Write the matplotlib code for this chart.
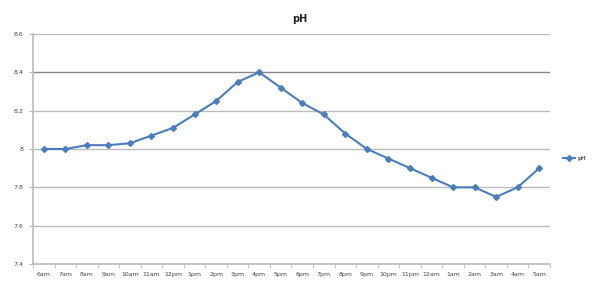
import matplotlib
matplotlib.use('Agg')
import matplotlib.pyplot as plt

hours = ['6am', '7am', '8am', '9am', '10am', '11am', '12pm', '1pm', '2pm', '3pm', '4pm', '5pm',
         '6pm', '7pm', '8pm', '9pm', '10pm', '11pm', '12am', '1am', '2am', '3am', '4am', '5am']
ph = [8.0, 8.0, 8.02, 8.02, 8.03, 8.07, 8.11, 8.18, 8.25, 8.35, 8.4, 8.32,
      8.24, 8.18, 8.08, 8.0, 7.95, 7.9, 7.85, 7.8, 7.8, 7.75, 7.8, 7.9]
yticks = [7.4, 7.6, 7.8, 8.0, 8.2, 8.4, 8.6]
ytick_labels = ['7.4', '7.6', '7.8', '8', '8.2', '8.4', '8.6']

fig = plt.figure(figsize=(5.98, 2.85), dpi=100)
ax = fig.add_axes([0.0552, 0.0737, 0.8645, 0.807])

x = list(range(len(hours)))
ax.plot(x, ph, color='#4a7ebb', linewidth=1.5, marker='D', markersize=3, label='pH')

ax.set_xlim(-0.5, len(hours) - 0.5)
ax.set_ylim(7.4, 8.6)
ax.set_yticks(yticks)
ax.set_yticklabels(ytick_labels, fontsize=4.5, color='#444444')
ax.set_xticks(x)
ax.set_xticklabels(hours, fontsize=4.5, color='#444444')
ax.tick_params(axis='x', length=0, pad=6)
ax.tick_params(axis='y', length=3, color='#bbbbbb', pad=4)
# boundary tick marks between categories
ax.set_xticks([i - 0.5 for i in range(len(hours) + 1)], minor=True)
ax.tick_params(axis='x', which='minor', length=3, color='#bbbbbb')

for t in yticks[1:]:
    c = '#888888' if t == 8.4 else '#bbbbbb'
    ax.axhline(t, color=c, linewidth=1.0, zorder=0)

for s in ['top', 'right']:
    ax.spines[s].set_visible(False)
ax.spines['left'].set_color('#bbbbbb')
ax.spines['bottom'].set_color('#bbbbbb')
ax.spines['left'].set_linewidth(1.2)
ax.spines['bottom'].set_linewidth(1.2)

fig.text(0.502, 0.935, 'pH', fontsize=7, fontweight='bold', ha='center', va='center', color='#222222')

ax.legend(loc='center left', bbox_to_anchor=(1.01, 0.46), frameon=False, fontsize=4.5,
          handlelength=2.0, handletextpad=0.4, borderaxespad=0.8)

fig.savefig('out.png', dpi=100)
